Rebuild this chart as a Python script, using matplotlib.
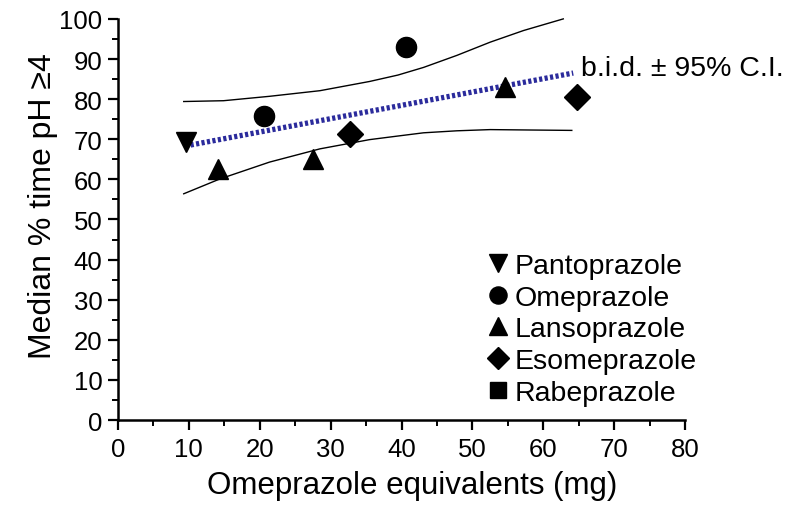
import matplotlib
matplotlib.use("Agg")
import matplotlib.pyplot as plt
from matplotlib.ticker import MultipleLocator

plt.rcParams['font.family'] = ['Liberation Sans', 'DejaVu Sans']

# data
panto_x = [9.6]
panto_y = [69.3]
omep_x = [20.6, 40.6]
omep_y = [75.8, 93.0]
lanso_x = [14.1, 27.5, 54.6]
lanso_y = [62.6, 65.0, 83.0]
esome_x = [32.7, 64.7]
esome_y = [71.3, 80.5]
rabe_x = []
rabe_y = []

# regression line (b.i.d.) and 95% CI bands
fit_x = [9.5, 64.2]
fit_y = [68.3, 86.5]
upper_x = [9.3, 14.9, 21.4, 28.5, 35.5, 39.5, 43.1, 47.8, 52.5, 57.2, 62.8]
upper_y = [79.4, 79.6, 80.7, 82.1, 84.4, 86.0, 87.9, 90.9, 94.2, 97.1, 100.0]
lower_x = [9.3, 14.4, 21.4, 28.5, 35.5, 39.5, 43.1, 47.8, 52.5, 58.0, 64.0]
lower_y = [56.4, 60.1, 64.3, 67.6, 69.9, 70.8, 71.6, 72.1, 72.4, 72.3, 72.2]

fig = plt.figure(figsize=(7.85, 5.10), dpi=100)
ax = fig.add_axes([0.150, 0.1745, 0.723, 0.7865])

ax.plot(upper_x, upper_y, color='black', lw=1.0, clip_on=False)
ax.plot(lower_x, lower_y, color='black', lw=1.0, clip_on=False)
ax.plot(fit_x, fit_y, color='#2b2b9c', lw=3.8, linestyle=(0, (0.6, 0.45)))

ax.plot(panto_x, panto_y, 'v', color='black', ms=15, ls='none', label='Pantoprazole')
ax.plot(omep_x, omep_y, 'o', color='black', ms=14.5, ls='none', label='Omeprazole')
ax.plot(lanso_x, lanso_y, '^', color='black', ms=15, ls='none', label='Lansoprazole')
ax.plot(esome_x, esome_y, 'D', color='black', ms=13, ls='none', label='Esomeprazole')
ax.plot(rabe_x, rabe_y, 's', color='black', ms=13, ls='none', label='Rabeprazole')

ax.text(65.3, 87.8, 'b.i.d. \u00b1 95% C.I.', fontsize=20.5, va='center', ha='left',
        clip_on=False)

leg = ax.legend(loc='upper left', bbox_to_anchor=(0.622, 0.445), frameon=False,
                fontsize=20.5, handletextpad=0.05, labelspacing=0.2,
                handlelength=1.1, borderaxespad=0, markerscale=0.85)

ax.set_xlim(0, 80)
ax.set_ylim(0, 100)
ax.xaxis.set_major_locator(MultipleLocator(10))
ax.xaxis.set_minor_locator(MultipleLocator(5))
ax.yaxis.set_major_locator(MultipleLocator(10))
ax.yaxis.set_minor_locator(MultipleLocator(5))

for s in ['top', 'right']:
    ax.spines[s].set_visible(False)
for s in ['left', 'bottom']:
    ax.spines[s].set_linewidth(1.8)

ax.tick_params(which='major', direction='out', length=7, width=1.6, labelsize=18.5)
ax.tick_params(axis='x', which='major', pad=5)
ax.tick_params(axis='y', which='major', pad=4)
ax.tick_params(which='minor', direction='out', length=4, width=1.4)

ax.set_xlabel('Omeprazole equivalents (mg)', fontsize=22.5)
ax.xaxis.set_label_coords(0.518, -0.125)
ax.set_ylabel('Median % time pH \u22654', fontsize=23)
ax.yaxis.set_label_coords(-0.105, 0.535)

fig.savefig('out.png', dpi=100)
